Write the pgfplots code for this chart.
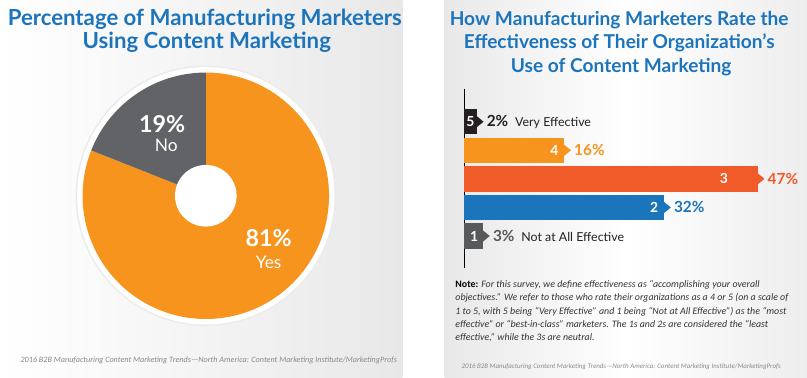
\documentclass[border=0pt]{standalone}
\usepackage{pgfplots}
\pgfplotsset{compat=1.18}
\usepackage{pgfplotstable}
\usepackage{fontspec}
\setmainfont{Lato}
\newfontfamily\notefont{Carlito}
\definecolor{titleblue}{HTML}{1C75BC}
\definecolor{cfive}{HTML}{231F20}
\definecolor{cfour}{HTML}{F7941E}
\definecolor{cthree}{HTML}{F15A29}
\definecolor{ctwo}{HTML}{1B75BB}
\definecolor{cone}{HTML}{58595B}
\definecolor{donutorange}{HTML}{F7941E}
\definecolor{donutgray}{HTML}{626366}
\definecolor{notegray}{HTML}{333333}
\definecolor{footgray}{HTML}{8A8A8A}
\pgfplotstableread{
label value
Yes 81
No 19
}\piedata
\newcommand\pctfont{\fontsize{15.5}{18}\selectfont\bfseries}
\newcommand\txtfont{\fontsize{12.5}{15}\selectfont\mdseries}
\newcommand\digfont{\fontsize{14}{16}\selectfont\bfseries}
\begin{document}
\pgfplotstablegetelem{0}{value}\of\piedata\edef\yesval{\pgfplotsretval}
\pgfplotstablegetelem{1}{value}\of\piedata\edef\noval{\pgfplotsretval}
\begin{tikzpicture}
\useasboundingbox (0bp,0bp) rectangle (807bp,380bp);
\shade[left color=white, right color=black!9] (0bp,0bp) rectangle (400bp,380bp);
\fill[white] (400bp,0bp) rectangle (442bp,380bp);
\shade[left color=black!9, right color=black!7, middle color=white] (442bp,0bp) rectangle (807bp,380bp);
% titles
\begin{scope}[every node/.style={font=\fontsize{22.4}{25}\selectfont\bfseries, text=titleblue, anchor=base, inner sep=0pt}]
\node at (201bp,354bp) {Percentage of Manufacturing Marketers};
\node at (203bp,331bp) {Using Content Marketing};
\end{scope}
\begin{scope}[every node/.style={font=\fontsize{19.3}{22}\selectfont\bfseries, text=titleblue, anchor=base, inner sep=0pt}]
\node at (618bp,354.3bp) {How Manufacturing Marketers Rate the};
\node at (618bp,330.7bp) {Effectiveness of Their Organization’s};
\node at (620bp,306.7bp) {Use of Content Marketing};
\end{scope}
% donut
\begin{axis}[at={(202bp,183bp)}, anchor=center, x=124bp, y=124bp,
  xmin=-1.1, xmax=1.1, ymin=-1.1, ymax=1.1, hide axis, scale only axis, clip=false]
\fill[black!8] (axis cs:0,0) circle[radius=131bp];
\fill[white] (axis cs:0,0) circle[radius=129.5bp];
\fill[donutorange] (axis cs:0,0) -- (axis cs:0,1) arc[start angle=90, delta angle={-3.6*\yesval}, radius=124bp] -- cycle;
\fill[donutgray] (axis cs:0,0) -- (axis cs:0,1) arc[start angle=90, delta angle={3.6*\noval}, radius=124bp] -- cycle;
\fill[white] (axis cs:0,0) circle[radius=31bp];
\node[anchor=base, inner sep=0pt, text=white, font=\fontsize{23.5}{26}\selectfont\bfseries] at (axis cs:-0.355,0.516) {\noval\%};
\node[anchor=base, inner sep=0pt, text=white, font=\fontsize{17.5}{20}\selectfont] at (axis cs:-0.32,0.363) {No};
\node[anchor=base, inner sep=0pt, text=white, font=\fontsize{23.5}{26}\selectfont\bfseries] at (axis cs:0.51,-0.41) {\yesval\%};
\node[anchor=base, inner sep=0pt, text=white, font=\fontsize{17.5}{20}\selectfont] at (axis cs:0.51,-0.59) {Yes};
\end{axis}
% bar chart
\begin{axis}[at={(462bp,110bp)}, anchor=south west, width=338bp, height=180bp, scale only axis,
  xmin=0, xmax=53.8, ymin=-0.13, ymax=6.13,
  axis x line=none, axis y line*=left, ytick=\empty,
  y axis line style={line width=1.2bp, black}, clip=false,
  /pgf/number format/assume math mode=true,
  nodes near coords align={horizontal},
  barstyle/.style={xbar, bar width=0.89, bar shift=0pt, draw=none, fill=#1, point meta=x,
     every node near coord/.append style={inner sep=0pt, xshift=10bp, text=#1, font=\pctfont}},
  tipstyle/.style 2 args={only marks, mark=triangle*, mark size=9.5bp, color=#1,
     mark options={solid, fill=#1, draw=#1, line width=0.2bp, rotate=-90, yscale=0.7}, point meta=y,
     nodes near coords={\pgfmathprintnumber{\pgfplotspointmeta}},
     every node near coord/.append style={inner sep=0pt, xshift=#2, text=white, font=\digfont}},
]
\addplot[barstyle=cfive, nodes near coords={{\pctfont\pgfmathprintnumber{\pgfplotspointmeta}\%}\hspace{7bp}{\txtfont Very Effective}}] coordinates {(2,5)};
\addplot[tipstyle={cfive}{-10.4bp}] coordinates {(2,5)};
\addplot[barstyle=cfour, nodes near coords={\pgfmathprintnumber{\pgfplotspointmeta}\%}] coordinates {(16,4)};
\addplot[tipstyle={cfour}{-14bp}] coordinates {(16,4)};
\addplot[barstyle=cthree, nodes near coords={\pgfmathprintnumber{\pgfplotspointmeta}\%}] coordinates {(47,3)};
\addplot[tipstyle={cthree}{-38bp}] coordinates {(47,3)};
\addplot[barstyle=ctwo, nodes near coords={\pgfmathprintnumber{\pgfplotspointmeta}\%}] coordinates {(32,2)};
\addplot[tipstyle={ctwo}{-14bp}] coordinates {(32,2)};
\addplot[barstyle=cone, nodes near coords={{\pctfont\pgfmathprintnumber{\pgfplotspointmeta}\%}\hspace{7bp}{\txtfont\color{cfive} Not at All Effective}}] coordinates {(3,1)};
\addplot[tipstyle={cone}{-13bp}] coordinates {(3,1)};
\end{axis}
% note
\begin{scope}[every node/.style={anchor=base west, inner sep=0pt, text=notegray, font=\notefont\fontsize{10}{13}\selectfont\itshape}]
\node at (453bp,91bp) {{\upshape\bfseries\color{black}Note:} For this survey, we define effectiveness as “accomplishing your overall};
\node at (453bp,77.5bp) {objectives.” We refer to those who rate their organizations as a 4 or 5 (on a scale of};
\node at (453bp,64bp) {1 to 5, with 5 being “Very Effective” and 1 being “Not at All Effective”) as the “most};
\node at (453bp,50.5bp) {effective” or “best-in-class” marketers. The 1s and 2s are considered the “least};
\node at (453bp,37bp) {effective,” while the 3s are neutral.};
\end{scope}
% footnotes
\node[anchor=base, inner sep=0pt, text=footgray, font=\notefont\fontsize{8.25}{9}\selectfont\itshape] at (205bp,15bp) {2016 B2B Manufacturing Content Marketing Trends—North America: Content Marketing Institute/MarketingProfs};
\node[anchor=base, inner sep=0pt, text=footgray, font=\notefont\fontsize{7}{8}\selectfont\itshape] at (620bp,9bp) {2016 B2B Manufacturing Content Marketing Trends—North America: Content Marketing Institute/MarketingProfs};
\end{tikzpicture}
\end{document}
